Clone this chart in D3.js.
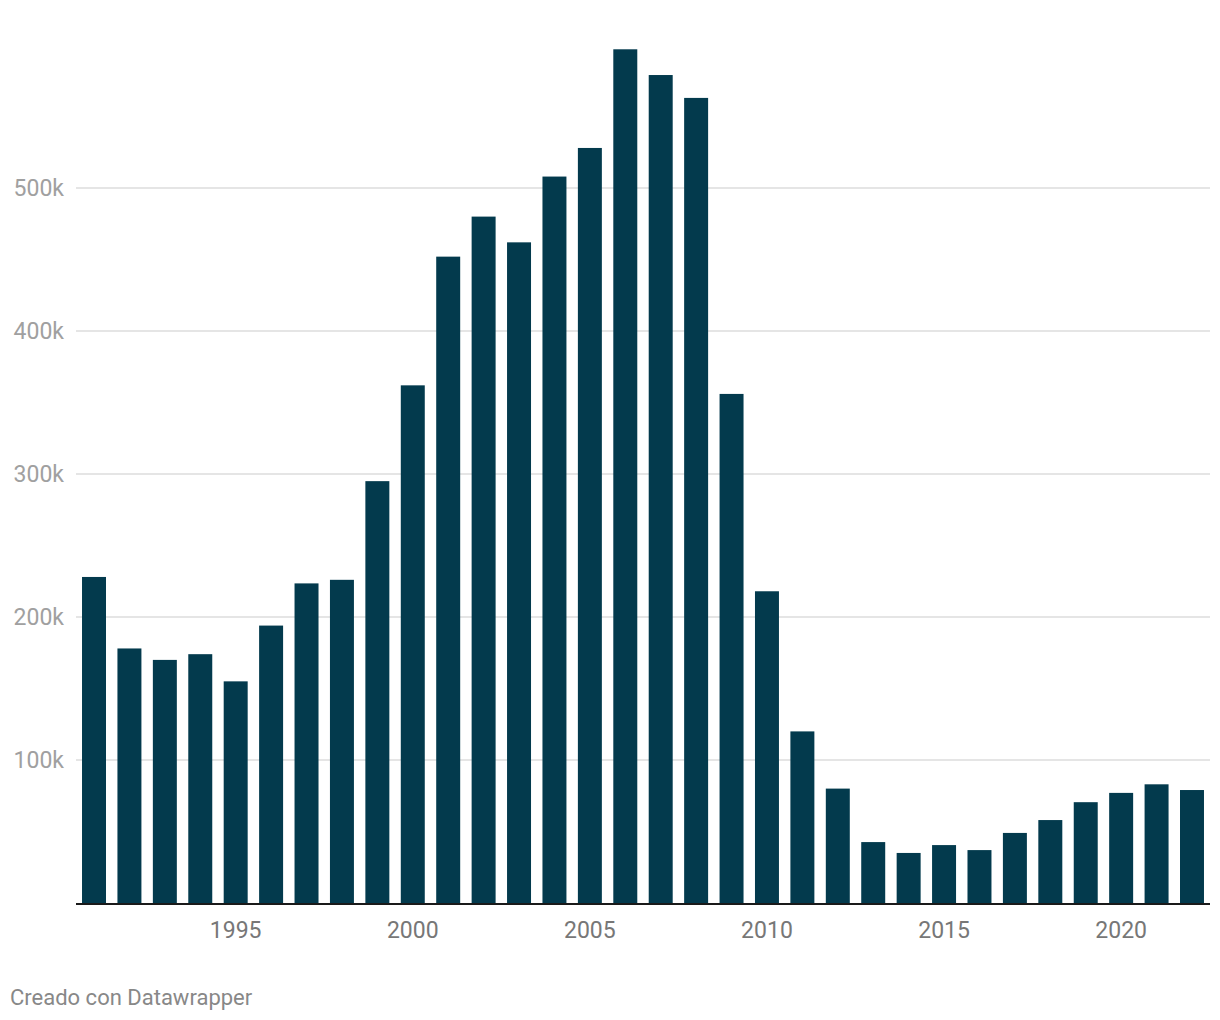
<!DOCTYPE html>
<html>
<head>
<meta charset="utf-8">
<script src="https://cdn.jsdelivr.net/npm/d3@7"></script>
<style>
  html, body { margin: 0; padding: 0; background: #fff; }
  svg { display: block; font-family: Roboto, "Noto Sans", sans-serif; }
</style>
</head>
<body>
<svg id="chart" width="1220" height="1020"></svg>
<script>
const years = [1991,1992,1993,1994,1995,1996,1997,1998,1999,2000,2001,2002,2003,2004,2005,2006,2007,2008,2009,2010,2011,2012,2013,2014,2015,2016,2017,2018,2019,2020,2021,2022];
const values = [228000,178000,170000,174000,155000,194000,223500,226000,295000,362000,452000,480000,462000,508000,528000,597000,579000,563000,356000,218000,120000,80000,42600,35000,40500,37000,49000,58000,70500,77000,83000,79000];
const yTicks = [100000,200000,300000,400000,500000];
const yTickLabels = ["100k","200k","300k","400k","500k"];
const xTickYears = [1995,2000,2005,2010,2015,2020];

const svg = d3.select("#chart");
const plotLeft = 76, plotRight = 1210, baseline = 903;

const x = d3.scaleBand().domain(years).range([plotLeft, plotRight]).paddingInner(0.323).paddingOuter(0.17);
const y = d3.scaleLinear().domain([0, 500000]).range([baseline, 188]);

// grid lines
svg.append("g").selectAll("line").data(yTicks).join("line")
  .attr("x1", plotLeft).attr("x2", plotRight)
  .attr("y1", d => y(d)).attr("y2", d => y(d))
  .attr("stroke", "#e5e5e5").attr("stroke-width", 2);

// y labels
svg.append("g").selectAll("text").data(yTicks).join("text")
  .attr("x", 64).attr("y", d => y(d)).attr("dy", "0.35em")
  .attr("text-anchor", "end")
  .attr("fill", "#a0a0a0").attr("font-size", 23)
  .text((d, i) => yTickLabels[i]);

// bars
svg.append("g").selectAll("rect").data(values).join("rect")
  .attr("x", (d, i) => x(years[i]))
  .attr("width", x.bandwidth())
  .attr("y", d => y(d))
  .attr("height", d => baseline - y(d))
  .attr("fill", "#033a4d");

// baseline
svg.append("line")
  .attr("x1", plotLeft).attr("x2", plotRight)
  .attr("y1", baseline + 1).attr("y2", baseline + 1)
  .attr("stroke", "#1a1a1a").attr("stroke-width", 2);

// x labels
const xAxis = d3.axisBottom(x).tickValues(xTickYears).tickSize(0).tickPadding(0);
const gx = svg.append("g").attr("transform", `translate(0,${baseline + 33})`).call(xAxis);
gx.select(".domain").remove();
gx.selectAll("text")
  .attr("font-size", 23)
  .attr("font-family", "Roboto, 'Noto Sans', sans-serif")
  .attr("fill", "#777777")
  .attr("dy", "0.1em");

// footer
svg.append("text")
  .attr("x", 10).attr("y", 1005)
  .attr("fill", "#888888").attr("font-size", 22)
  .text("Creado con Datawrapper");
</script>
</body>
</html>
